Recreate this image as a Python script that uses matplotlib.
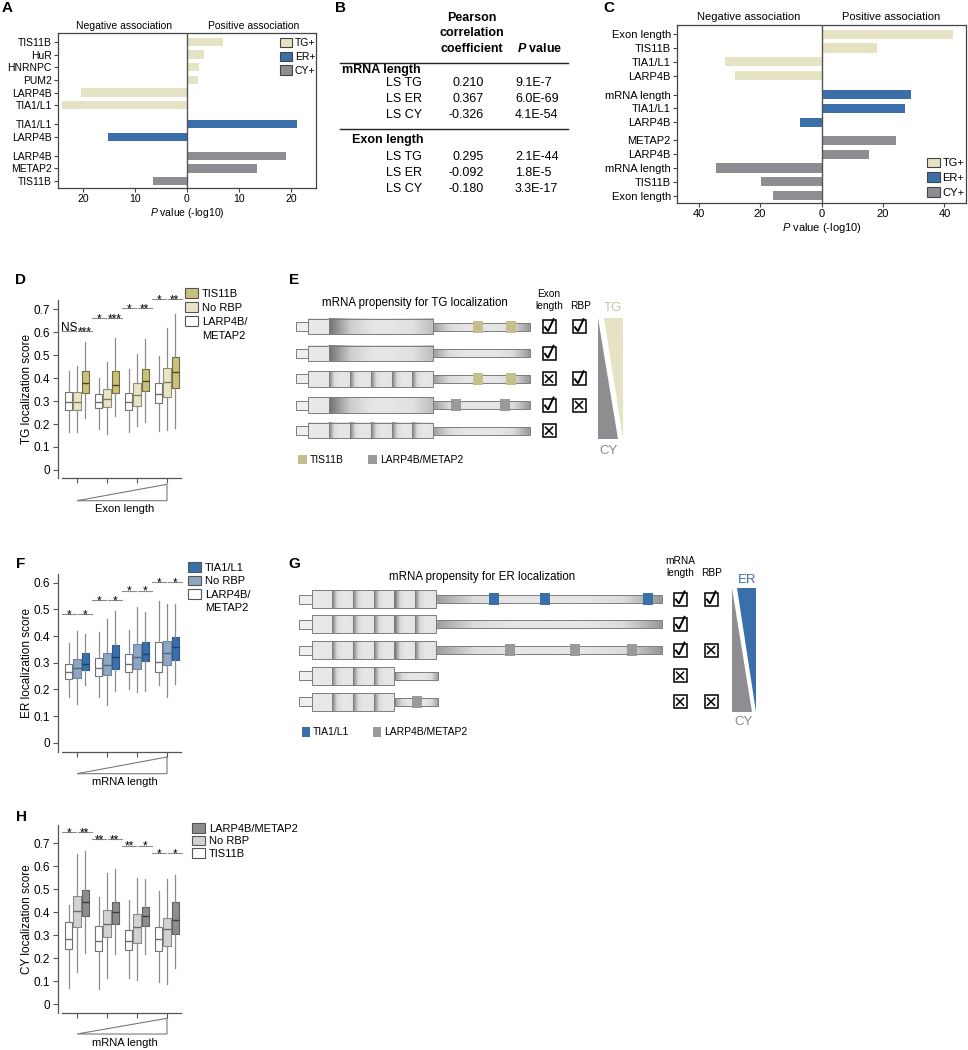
import numpy as np
import matplotlib
matplotlib.use('Agg')
import matplotlib.pyplot as plt
from matplotlib.patches import Rectangle, Polygon, Patch

plt.rcParams['font.family'] = ['Liberation Sans', 'DejaVu Sans']
plt.rcParams['mathtext.fontset'] = 'custom'
plt.rcParams['mathtext.rm'] = 'Liberation Sans'
plt.rcParams['mathtext.it'] = 'Liberation Sans:italic'
plt.rcParams['mathtext.bf'] = 'Liberation Sans:bold'
plt.rcParams['mathtext.bfit'] = 'Liberation Sans:italic:bold'

# ---------------- data ----------------
# A: RBP association with localization (P value, -log10, signed)
a_labels = ['TIS11B', 'HuR', 'HNRNPC', 'PUM2', 'LARP4B', 'TIA1/L1',
            'TIA1/L1', 'LARP4B', 'LARP4B', 'METAP2', 'TIS11B']
a_values = [6.9, 3.3, 2.3, 2.2, -20.4, -24.0, 21.2, -15.1, 19.0, 13.4, -6.5]
a_groups = ['TG'] * 6 + ['ER'] * 2 + ['CY'] * 3
a_pos = [0, 1, 2, 3, 4, 5, 6.5, 7.5, 9, 10, 11]

# B: correlation table
b_rows = ['LS TG', 'LS ER', 'LS CY']
b_mrna_r = [0.210, 0.367, -0.326]
b_mrna_p = ['9.1E-7', '6.0E-69', '4.1E-54']
b_exon_r = [0.295, -0.092, -0.180]
b_exon_p = ['2.1E-44', '1.8E-5', '3.3E-17']

# C: multivariate association
c_labels = ['Exon length', 'TIS11B', 'TIA1/L1', 'LARP4B',
            'mRNA length', 'TIA1/L1', 'LARP4B',
            'METAP2', 'LARP4B', 'mRNA length', 'TIS11B', 'Exon length']
c_values = [42.7, 18.2, -31.3, -28.0, 29.1, 27.1, -7.0, 24.2, 15.3, -34.2, -19.7, -15.8]
c_groups = ['TG'] * 4 + ['ER'] * 3 + ['CY'] * 5
c_pos = [0, 1, 2, 3, 4.35, 5.35, 6.35, 7.65, 8.65, 9.65, 10.65, 11.65]

# D: TG localization score per exon length bin [whislo, q1, med, q3, whishi]
d_lm = [[0.165, 0.26, 0.295, 0.34, 0.43], [0.18, 0.268, 0.295, 0.329, 0.40],
        [0.167, 0.262, 0.297, 0.334, 0.438], [0.168, 0.29, 0.33, 0.377, 0.495]]
d_norbp = [[0.165, 0.262, 0.298, 0.34, 0.452], [0.155, 0.272, 0.31, 0.352, 0.47],
           [0.193, 0.28, 0.325, 0.377, 0.507], [0.172, 0.319, 0.383, 0.442, 0.62]]
d_tis = [[0.228, 0.337, 0.38, 0.432, 0.555], [0.235, 0.337, 0.372, 0.432, 0.573],
         [0.21, 0.343, 0.386, 0.439, 0.571], [0.184, 0.355, 0.427, 0.49, 0.678]]
d_sig_h = [0.604, 0.662, 0.706, 0.743]
d_sig = [['NS', '***'], ['*', '***'], ['*', '**'], ['*', '**']]

# F: ER localization score per mRNA length bin
f_lm = [[0.172, 0.24, 0.267, 0.295, 0.373], [0.172, 0.249, 0.28, 0.317, 0.414],
        [0.2, 0.267, 0.295, 0.332, 0.423], [0.215, 0.267, 0.301, 0.379, 0.531]]
f_norbp = [[0.147, 0.243, 0.282, 0.313, 0.42], [0.14, 0.255, 0.292, 0.336, 0.463],
           [0.19, 0.277, 0.321, 0.37, 0.507], [0.17, 0.29, 0.338, 0.383, 0.52]]
f_tia = [[0.218, 0.274, 0.295, 0.336, 0.407], [0.193, 0.277, 0.323, 0.366, 0.495],
         [0.195, 0.305, 0.333, 0.379, 0.491], [0.22, 0.311, 0.36, 0.398, 0.519]]
f_sig_h = [0.481, 0.535, 0.57, 0.602]
f_sig = [['*', '*'], ['*', '*'], ['*', '*'], ['*', '*']]

# H: CY localization score per mRNA length bin
h_tis = [[0.072, 0.241, 0.283, 0.358, 0.432], [0.065, 0.229, 0.275, 0.339, 0.467],
         [0.112, 0.234, 0.276, 0.323, 0.455], [0.096, 0.233, 0.283, 0.337, 0.494]]
h_norbp = [[0.139, 0.334, 0.406, 0.472, 0.652], [0.112, 0.29, 0.348, 0.409, 0.573],
           [0.103, 0.268, 0.335, 0.391, 0.547], [0.088, 0.253, 0.326, 0.373, 0.543]]
h_lm = [[0.224, 0.384, 0.443, 0.499, 0.666], [0.219, 0.349, 0.402, 0.446, 0.587],
        [0.219, 0.342, 0.385, 0.424, 0.543], [0.159, 0.306, 0.365, 0.443, 0.562]]
h_sig_h = [0.749, 0.72, 0.69, 0.656]
h_sig = [['*', '**'], ['**', '**'], ['**', '*'], ['*', '*']]

# E / G schematics
e_cds = ['long', 'long', 'seg', 'long', 'seg']
e_motif = ['TIS11B', None, 'TIS11B', 'LARP4B', None]
e_exon = ['check', 'check', 'x', 'check', 'x']
e_rbp = ['check', None, 'check', 'x', None]
g_nseg = [6, 6, 6, 4, 4]
g_motif = ['TIA1', None, 'LARP4B', None, 'LARP4B']
g_len = ['check', 'check', 'check', 'x', 'x']
g_rbp = ['check', None, 'x', None, 'x']

# ---------------- style ----------------
TG_C = '#e6e3c5'
ER_C = '#3b6faa'
CY_C = '#8e8e92'
GROUP_C = {'TG': TG_C, 'ER': ER_C, 'CY': CY_C}
MOTIF_C = {'TIS11B': '#c5bf8e', 'LARP4B': '#9a9a9d', 'TIA1': ER_C}

W, H = 968, 1050
fig = plt.figure(figsize=(W / 100, H / 100), dpi=100)


def px_axes(x0, y0, x1, y1):
    return fig.add_axes([x0 / W, 1 - y1 / H, (x1 - x0) / W, (y1 - y0) / H])


ov = fig.add_axes([0, 0, 1, 1])
ov.set_xlim(0, W)
ov.set_ylim(H, 0)
ov.axis('off')
ov.set_autoscale_on(False)

for lab, x, y in [('A', 2, 8), ('B', 335, 8), ('C', 603, 8), ('D', 15, 280),
                  ('E', 289, 280), ('F', 16, 564), ('G', 288, 564), ('H', 16, 817)]:
    ov.text(x, y, lab, fontsize=11, fontweight='bold', ha='left', va='center')


# ---------------- bar panels (A, C) ----------------
def bar_panel(ax, pos, vals, groups, labels, lim, ticks, ylim, fs,
              leg_loc, leg_anchor, neg_x, pos_x):
    ax.barh(pos, vals, height=0.66, color=[GROUP_C[g] for g in groups], zorder=2)
    ax.axvline(0, color='#555555', lw=1.0, zorder=3)
    ax.set_yticks(pos, labels)
    ax.set_ylim(*ylim)
    ax.set_xlim(-lim, lim)
    ax.set_xticks(ticks, [str(abs(t)) for t in ticks])
    ax.tick_params(labelsize=fs, length=3, width=0.8, pad=1.5, color='#444444')
    for s in ax.spines.values():
        s.set_linewidth(0.9)
        s.set_color('#444444')
    ax.set_xlabel(r'$\mathit{P}$ value (-log10)', fontsize=fs, labelpad=1)
    ax.text(neg_x, 1.015, 'Negative association', transform=ax.transAxes,
            ha='center', va='bottom', fontsize=fs)
    ax.text(pos_x, 1.015, 'Positive association', transform=ax.transAxes,
            ha='center', va='bottom', fontsize=fs)
    handles = [Patch(fc=GROUP_C[g], ec='#444444', lw=0.8, label=g + '+')
               for g in ['TG', 'ER', 'CY']]
    ax.legend(handles=handles, loc=leg_loc, bbox_to_anchor=leg_anchor, frameon=False,
              fontsize=fs, handlelength=1.15, handleheight=1.0, handletextpad=0.25,
              labelspacing=0.35, borderpad=0, borderaxespad=0)


axA = px_axes(58, 33, 316, 188)
bar_panel(axA, a_pos, a_values, a_groups, a_labels, 24.8, [-20, -10, 0, 10, 20],
          (11.54, -0.7), 7.5, 'upper right', (0.997, 0.97), 0.256, 0.76)

axC = px_axes(677, 25, 966, 203)
bar_panel(axC, c_pos, c_values, c_groups, c_labels, 47, [-40, -20, 0, 20, 40],
          (12.17, -0.66), 8, 'lower right', (0.995, 0.03), 0.247, 0.74)

# ---------------- table (B) ----------------
for i, t in enumerate(['Pearson', 'correlation', 'coefficient']):
    ov.text(472, 18 + 15.3 * i, t, fontsize=9, fontweight='bold', ha='center', va='center')
ov.text(517, 48.6, r'$\mathbfit{P}$ value', fontsize=9, fontweight='bold', ha='left', va='center')
for yy in [63.3, 129.3]:
    ov.plot([340, 568], [yy, yy], color='#222222', lw=1.0)
ov.text(342, 69.5, 'mRNA length', fontsize=9, fontweight='bold', ha='left', va='center')
ov.text(352, 139.5, 'Exon length', fontsize=9, fontweight='bold', ha='left', va='center')
for y0, rs, ps in [(83, b_mrna_r, b_mrna_p), (157, b_exon_r, b_exon_p)]:
    for i, (name, r, p) in enumerate(zip(b_rows, rs, ps)):
        yy = y0 + 16.2 * i
        ov.text(422, yy, name, fontsize=9, ha='right', va='center')
        ov.text(484, yy, f'{r:.3f}', fontsize=9, ha='right', va='center')
        ov.text(515, yy, p, fontsize=9, ha='left', va='center')


# ---------------- box panels (D, F, H) ----------------
def box_panel(ax, series, fcs, ecs, mcs, ylim, yticks, ylabel, sig_h, sig_lab):
    offs = [-0.277, 0, 0.277]
    for k, data in enumerate(series):
        stats = [dict(whislo=s[0], q1=s[1], med=s[2], q3=s[3], whishi=s[4]) for s in data]
        ax.bxp(stats, positions=[g + offs[k] for g in range(len(data))], widths=0.25,
               patch_artist=True, showfliers=False, showcaps=False, manage_ticks=False,
               boxprops=dict(facecolor=fcs[k], edgecolor=ecs[k], linewidth=0.8),
               medianprops=dict(color=mcs[k], linewidth=1.0),
               whiskerprops=dict(color='#8c8c8c', linewidth=0.9))
    for g, (hh, labs) in enumerate(zip(sig_h, sig_lab)):
        for (a, b), lab in zip([(-0.5, -0.04), (0.02, 0.5)], labs):
            ax.plot([g + a, g + b], [hh, hh], color='#8c8c8c', lw=0.8, clip_on=False)
            dy = 0 if lab == 'NS' else -3
            ax.annotate(lab, (g + (a + b) / 2, hh), xytext=(0, dy), textcoords='offset points',
                        ha='center', va='baseline', fontsize=8.5, annotation_clip=False)
    ax.set_xlim(-0.633, 3.467)
    ax.set_ylim(*ylim)
    ax.set_xticks(range(4), [])
    ax.set_yticks(yticks, ['0' if t == 0 else f'{t:.1f}' for t in yticks])
    ax.spines[['top', 'right']].set_visible(False)
    ax.spines['bottom'].set_bounds(-0.5, 3.467)
    for s in ['left', 'bottom']:
        ax.spines[s].set_linewidth(0.9)
        ax.spines[s].set_color('#555555')
    ax.tick_params(labelsize=8.5, length=3.5, width=0.8, color='#555555', pad=2)
    ax.set_ylabel(ylabel, fontsize=8.5)
    ax.yaxis.set_label_coords(-0.2, 0.5)


def side_legend(ax, entries, x, y, spacing):
    handles, labels = [], []
    for lab, fc in entries:
        if fc is None:
            handles.append(Patch(fc='none', ec='none'))
        else:
            handles.append(Patch(fc=fc, ec='#555555', lw=0.8))
        labels.append(lab)
    ax.legend(handles, labels, loc='upper left', bbox_to_anchor=(x / W, 1 - y / H),
              bbox_transform=fig.transFigure, frameon=False, fontsize=8,
              handlelength=1.2, handleheight=0.95, handletextpad=0.3,
              labelspacing=spacing, borderpad=0, borderaxespad=0)


def wedge(ax, y_lo, y_hi, label, y_lab):
    x0 = ax.transData.transform((0, 0))[0]
    x1 = ax.transData.transform((3, 0))[0]
    ov.add_patch(Polygon([(x0, y_lo), (x1, y_hi), (x1, y_lo)], closed=True,
                         fill=False, ec='#7a7a7a', lw=0.8))
    ov.text((x0 + x1) / 2 + 3, y_lab, label, fontsize=8, ha='center', va='center')


axD = px_axes(58, 300, 181, 478)
box_panel(axD, [d_lm, d_norbp, d_tis], ['white', '#e8e5c6', '#c9c17b'],
          ['#707070', '#8e8c72', '#6f6a3a'], ['#707070', '#7d7b62', '#4b4720'],
          (-0.035, 0.74), [0, 0.1, 0.2, 0.3, 0.4, 0.5, 0.6, 0.7],
          'TG localization score', d_sig_h, d_sig)
side_legend(axD, [('TIS11B', '#c9c17b'), ('No RBP', '#e8e5c6'),
                  ('LARP4B/', 'white'), ('METAP2', None)], 185, 288.5, 0.3)
wedge(axD, 500.7, 484.3, 'Exon length', 509)

axF = px_axes(58, 574, 181, 752)
box_panel(axF, [f_lm, f_norbp, f_tia], ['white', '#8ea6c2', ER_C],
          ['#707070', '#6d84a0', '#2b5a90'], ['#707070', '#4f6580', '#1d3f66'],
          (-0.034, 0.632), [0, 0.1, 0.2, 0.3, 0.4, 0.5, 0.6],
          'ER localization score', f_sig_h, f_sig)
side_legend(axF, [('TIA1/L1', ER_C), ('No RBP', '#8ea6c2'),
                  ('LARP4B/', 'white'), ('METAP2', None)], 188, 562.5, 0.25)
wedge(axF, 773.7, 757, 'mRNA length', 782.3)

axH = px_axes(58, 825, 181, 1013)
box_panel(axH, [h_tis, h_norbp, h_lm], ['white', '#d2d2d4', '#8d8d90'],
          ['#707070', '#8a8a8a', '#5f5f62'], ['#707070', '#6a6a6a', '#3d3d40'],
          (-0.039, 0.78), [0, 0.1, 0.2, 0.3, 0.4, 0.5, 0.6, 0.7],
          'CY localization score', h_sig_h, h_sig)
side_legend(axH, [('LARP4B/METAP2', '#8d8d90'), ('No RBP', '#d2d2d4'),
                  ('TIS11B', 'white')], 192, 823.5, 0.15)
wedge(axH, 1034, 1018.3, 'mRNA length', 1043)


# ---------------- schematics (E, G) ----------------
EDGE = '#7d7d7d'


def grad(x0, x1, y, h, prof):
    arr = np.interp(np.linspace(0, 1, 80), np.linspace(0, 1, len(prof)), prof)[None, :]
    ov.imshow(arr, extent=[x0, x1, y + h / 2, y - h / 2], cmap='gray', vmin=0, vmax=1,
              aspect='auto', interpolation='bilinear', zorder=2)
    ov.add_patch(Rectangle((x0, y - h / 2), x1 - x0, h, fill=False, ec=EDGE, lw=0.7, zorder=3))


def transcript(y, x5, xc, seg_w, n_seg, long_end, x_end, h_cds, motifs, mcol):
    ov.add_patch(Rectangle((x5, y - 4.5), xc - x5, 9, fc='#efefef', ec=EDGE, lw=0.7, zorder=3))
    if long_end is None:
        for i in range(n_seg):
            a = xc + i * seg_w
            prof = [0.91, 0.91] if i == 0 else [0.5, 0.86, 0.9, 0.9, 0.89]
            grad(a, a + seg_w, y, h_cds, prof)
        x_cds_end = xc + n_seg * seg_w
    else:
        grad(xc, xc + seg_w, y, h_cds, [0.91, 0.91])
        grad(xc + seg_w, long_end, y, h_cds, [0.45, 0.8, 0.9, 0.9, 0.88, 0.74])
        x_cds_end = long_end
    grad(x_cds_end, x_end, y, 8, [0.62, 0.86, 0.9, 0.9, 0.9, 0.86, 0.6])
    for mx in motifs:
        ov.add_patch(Rectangle((mx - 5, y - 6), 10, 12, fc=mcol, ec='none', zorder=4))


def checkbox(x, y, kind):
    ov.add_patch(Rectangle((x - 6.5, y - 6.5), 13, 13, fc='white', ec='black', lw=1.1, zorder=4))
    if kind == 'check':
        ov.plot([x - 4, x - 1, x + 4.5], [y + 0.5, y + 4.5, y - 7.5], color='black',
                lw=1.4, zorder=5, solid_joinstyle='miter')
    else:
        ov.plot([x - 3.5, x + 3.5], [y - 3.5, y + 3.5], color='black', lw=1.1, zorder=5)
        ov.plot([x - 3.5, x + 3.5], [y + 3.5, y - 3.5], color='black', lw=1.1, zorder=5)


# E
ov.text(415, 303, 'mRNA propensity for TG localization', fontsize=8.3, ha='center', va='center')
ov.text(549, 294, 'Exon', fontsize=7.3, ha='center', va='center')
ov.text(549, 306, 'length', fontsize=7.3, ha='center', va='center')
ov.text(581, 306, 'RBP', fontsize=7.3, ha='center', va='center')
e_motif_x = {'TIS11B': [478.3, 511], 'LARP4B': [455.7, 505]}
for i, y in enumerate([326.7, 353.3, 378.8, 405, 430.7]):
    m = e_motif[i]
    transcript(y, 296, 308.3, 20.8, 6, 433.3 if e_cds[i] == 'long' else None, 530, 15.5,
               e_motif_x.get(m, []), MOTIF_C.get(m))
    checkbox(549, y, e_exon[i])
    if e_rbp[i]:
        checkbox(579, y, e_rbp[i])
ov.add_patch(Polygon([(598.3, 317.7), (598.3, 439), (618.3, 439)], fc=CY_C, ec='none'))
ov.add_patch(Polygon([(604, 317.7), (623.3, 317.7), (623.3, 439)], fc=TG_C, ec='none'))
ov.text(613, 308, 'TG', fontsize=9.5, color='#c9c4a0', ha='center', va='center')
ov.text(608, 451, 'CY', fontsize=9.5, color='#8a8a8a', ha='center', va='center')
ov.add_patch(Rectangle((298, 455), 9, 9, fc=MOTIF_C['TIS11B'], ec='none'))
ov.text(310, 460, 'TIS11B', fontsize=7.5, ha='left', va='center')
ov.add_patch(Rectangle((368, 455), 9, 9, fc=MOTIF_C['LARP4B'], ec='none'))
ov.text(380, 460, 'LARP4B/METAP2', fontsize=7.5, ha='left', va='center')

# G
ov.text(482, 577.3, 'mRNA propensity for ER localization', fontsize=8.3, ha='center', va='center')
ov.text(680, 561, 'mRNA', fontsize=7.3, ha='center', va='center')
ov.text(680, 573, 'length', fontsize=7.3, ha='center', va='center')
ov.text(712, 573, 'RBP', fontsize=7.3, ha='center', va='center')
g_motif_x = {0: [494.3, 545, 647.7], 2: [510, 575, 632.3], 4: [417.3]}
for i, y in enumerate([599, 624.3, 650, 675.7, 701.7]):
    m = g_motif[i]
    x_end = 661.7 if g_nseg[i] == 6 else 437.7
    transcript(y, 299.3, 311.7, 20.7, g_nseg[i], None, x_end, 18,
               g_motif_x.get(i, []), MOTIF_C.get(m))
    checkbox(680, y, g_len[i])
    if g_rbp[i]:
        checkbox(711, y, g_rbp[i])
ov.add_patch(Polygon([(732.3, 588.3), (732.3, 711.7), (751.7, 711.7)], fc=CY_C, ec='none'))
ov.add_patch(Polygon([(736.7, 588.3), (756, 588.3), (756, 711.7)], fc=ER_C, ec='none'))
ov.text(746.7, 580, 'ER', fontsize=9.5, color=ER_C, ha='center', va='center')
ov.text(743.3, 722.3, 'CY', fontsize=9.5, color='#8a8a8a', ha='center', va='center')
ov.add_patch(Rectangle((302, 727), 8, 10, fc=ER_C, ec='none'))
ov.text(313, 732, 'TIA1/L1', fontsize=7.5, ha='left', va='center')
ov.add_patch(Rectangle((373, 727), 8, 10, fc=MOTIF_C['LARP4B'], ec='none'))
ov.text(384, 732, 'LARP4B/METAP2', fontsize=7.5, ha='left', va='center')

fig.savefig('out.png', dpi=100)
